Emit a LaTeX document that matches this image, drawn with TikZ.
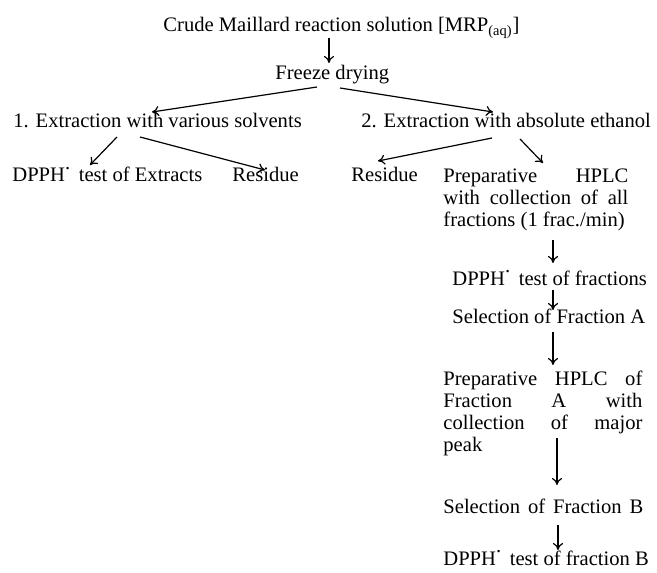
\documentclass[tikz,border=0pt]{standalone}
\usepackage{fontspec}
\setmainfont{Liberation Serif}
\usetikzlibrary{arrows.meta, positioning, calc}
\newcommand{\radot}{\raisebox{0.6em}{.}\,}

\begin{document}
\begin{tikzpicture}[
			x=0.5pt, y=-0.5pt,
			txt/.style={inner sep=0pt, anchor=base west, font=\fontsize{10.3}{11}\selectfont},
			block/.style={txt, align=justify, execute at begin node={\hyphenpenalty=10000}},
			arrow/.style={-{To[length=3.5pt, width=5pt]}, line width=0.6pt}
			]
			\useasboundingbox (0,0) rectangle (657,572);
			
			\node[txt] (crude) at (163,32) {Crude Maillard reaction solution [MRP\textsubscript{(aq)}]};
			\node[txt] (freeze) at (275,80) {Freeze drying};
			
			\node[txt] (ext1) at (13,128) {1. Extraction with various solvents};
			\node[txt] (ext2) at (361,128) {2. Extraction with absolute ethanol};
			
			\node[txt] (dpph1) at (12,182) {DPPH\radot{} test of Extracts};
			\node[txt] (res1) at (232,182) {Residue};
			\node[txt] (res2) at (351,182) {Residue};
			\node[block, text width=92.5pt] (hplc1) at (443,183) {Preparative HPLC\linebreak with collection of all\linebreak fractions (1 frac./min)};
			
			\node[txt] (dpph2) at (452,285) {DPPH\radot{} test of fractions};
			\node[txt] (selA) at (452,323) {Selection of Fraction A};
			\node[block, text width=99.5pt] (hplc2) at (443,385) {Preparative HPLC of\linebreak Fraction A with\linebreak collection of major\linebreak peak};
			\node[txt] (selB) at (443,513) {\makebox[100pt][s]{Selection of Fraction B}};
			\node[txt] (dpph3) at (443,565) {DPPH\radot{} test of fraction B};
			
			\draw[arrow] ([shift={(166,6)}]crude.base west) -- ([shift={(54,-17)}]freeze.base west);
			\draw[arrow] ([shift={(42,7)}]freeze.base west) -- ([shift={(139,-16)}]ext1.base west);
			\draw[arrow] ([shift={(65,8)}]freeze.base west) -- ([shift={(132,-16)}]ext2.base west);
			\draw[arrow] ([shift={(104,9)}]ext1.base west) -- ([shift={(78,-17)}]dpph1.base west);
			\draw[arrow] ([shift={(127,9)}]ext1.base west) -- ([shift={(33,-12)}]res1.base west);
			\draw[arrow] ([shift={(131,10)}]ext2.base west) -- ([shift={(27,-21)}]res2.base west);
			\draw[arrow] ([shift={(159,11)}]ext2.base west) -- ([shift={(100,-20)}]hplc1.base west);
			\draw[arrow] ([shift={(110,57)}]hplc1.base west) -- ([shift={(101,-22)}]dpph2.base west);
			\draw[arrow] ([shift={(101,5)}]dpph2.base west) -- ([shift={(101,-13)}]selA.base west);
			\draw[arrow] ([shift={(101,9)}]selA.base west) -- ([shift={(110,-20)}]hplc2.base west);
			\draw[arrow] ([shift={(114,53)}]hplc2.base west) -- ([shift={(114,-28)}]selB.base west);
			\draw[arrow] ([shift={(115,12)}]selB.base west) -- ([shift={(115,-15)}]dpph3.base west);
		\end{tikzpicture}
\end{document}
